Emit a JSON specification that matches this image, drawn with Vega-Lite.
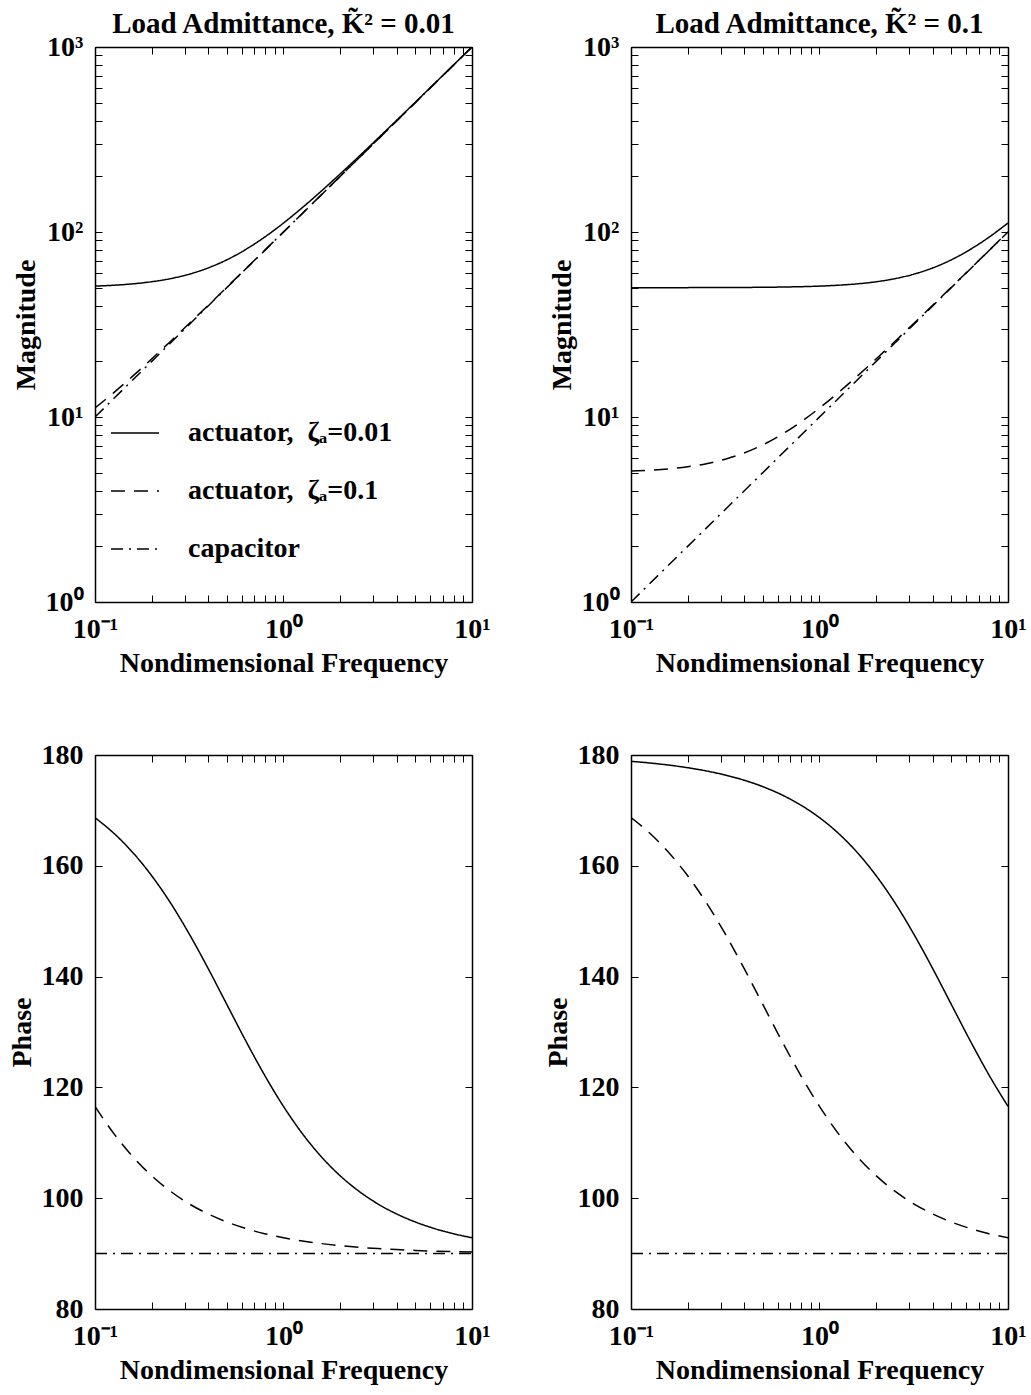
{
  "$schema": "https://vega.github.io/schema/vega-lite/v6.json",
  "padding": {"left": 8, "top": 10, "right": 5, "bottom": 2},
  "background": "white",
  "datasets": {
    "tl": [
      {"s":"z01","w":0.1,"v":51.0},{"s":"z01","w":0.1259,"v":51.56},{"s":"z01","w":0.1585,"v":52.45},{"s":"z01","w":0.1995,"v":53.83},{"s":"z01","w":0.2512,"v":55.96},{"s":"z01","w":0.3162,"v":59.16},{"s":"z01","w":0.3981,"v":63.91},{"s":"z01","w":0.5012,"v":70.8},{"s":"z01","w":0.631,"v":80.5},{"s":"z01","w":0.7943,"v":93.86},{"s":"z01","w":1,"v":111.8},{"s":"z01","w":1.259,"v":135.5},{"s":"z01","w":1.585,"v":166.2},{"s":"z01","w":1.995,"v":205.7},{"s":"z01","w":2.512,"v":256.1},{"s":"z01","w":3.162,"v":320.2},{"s":"z01","w":3.981,"v":401.2},{"s":"z01","w":5.012,"v":503.7},{"s":"z01","w":6.31,"v":632.9},{"s":"z01","w":7.943,"v":795.9},{"s":"z01","w":10,"v":1001.2},
      {"s":"z1","w":0.1,"v":11.18},{"s":"z1","w":0.1259,"v":13.55},{"s":"z1","w":0.1585,"v":16.62},{"s":"z1","w":0.1995,"v":20.57},{"s":"z1","w":0.2512,"v":25.61},{"s":"z1","w":0.3162,"v":32.02},{"s":"z1","w":0.3981,"v":40.12},{"s":"z1","w":0.5012,"v":50.37},{"s":"z1","w":0.631,"v":63.3},{"s":"z1","w":0.7943,"v":79.59},{"s":"z1","w":1,"v":100.1},{"s":"z1","w":1.259,"v":126.0},{"s":"z1","w":1.585,"v":158.6},{"s":"z1","w":1.995,"v":199.6},{"s":"z1","w":2.512,"v":251.2},{"s":"z1","w":3.162,"v":316.2},{"s":"z1","w":3.981,"v":398.1},{"s":"z1","w":5.012,"v":501.2},{"s":"z1","w":6.31,"v":631},{"s":"z1","w":7.943,"v":794.3},{"s":"z1","w":10,"v":1000},
      {"s":"cap","w":0.1,"v":10},{"s":"cap","w":10,"v":1000}
    ],
    "tr": [
      {"s":"z01","w":0.1,"v":50.01},{"s":"z01","w":0.1259,"v":50.02},{"s":"z01","w":0.1585,"v":50.02},{"s":"z01","w":0.1995,"v":50.04},{"s":"z01","w":0.2512,"v":50.06},{"s":"z01","w":0.3162,"v":50.1},{"s":"z01","w":0.3981,"v":50.16},{"s":"z01","w":0.5012,"v":50.25},{"s":"z01","w":0.631,"v":50.4},{"s":"z01","w":0.7943,"v":50.63},{"s":"z01","w":1,"v":50.99},{"s":"z01","w":1.259,"v":51.56},{"s":"z01","w":1.585,"v":52.45},{"s":"z01","w":1.995,"v":53.83},{"s":"z01","w":2.512,"v":55.96},{"s":"z01","w":3.162,"v":59.16},{"s":"z01","w":3.981,"v":63.91},{"s":"z01","w":5.012,"v":70.8},{"s":"z01","w":6.31,"v":80.5},{"s":"z01","w":7.943,"v":93.86},{"s":"z01","w":10,"v":111.8},
      {"s":"z1","w":0.1,"v":5.099},{"s":"z1","w":0.1259,"v":5.156},{"s":"z1","w":0.1585,"v":5.245},{"s":"z1","w":0.1995,"v":5.383},{"s":"z1","w":0.2512,"v":5.596},{"s":"z1","w":0.3162,"v":5.916},{"s":"z1","w":0.3981,"v":6.391},{"s":"z1","w":0.5012,"v":7.08},{"s":"z1","w":0.631,"v":8.05},{"s":"z1","w":0.7943,"v":9.386},{"s":"z1","w":1,"v":11.18},{"s":"z1","w":1.259,"v":13.55},{"s":"z1","w":1.585,"v":16.62},{"s":"z1","w":1.995,"v":20.57},{"s":"z1","w":2.512,"v":25.61},{"s":"z1","w":3.162,"v":32.02},{"s":"z1","w":3.981,"v":40.12},{"s":"z1","w":5.012,"v":50.37},{"s":"z1","w":6.31,"v":63.3},{"s":"z1","w":7.943,"v":79.59},{"s":"z1","w":10,"v":100.1},
      {"s":"cap","w":0.1,"v":1},{"s":"cap","w":10,"v":100}
    ],
    "bl": [
      {"s":"z01","w":0.1,"v":168.69},{"s":"z01","w":0.1259,"v":165.87},{"s":"z01","w":0.1585,"v":162.41},{"s":"z01","w":0.1995,"v":158.24},{"s":"z01","w":0.2512,"v":153.33},{"s":"z01","w":0.3162,"v":147.69},{"s":"z01","w":0.3981,"v":141.48},{"s":"z01","w":0.5012,"v":134.93},{"s":"z01","w":0.631,"v":128.39},{"s":"z01","w":0.7943,"v":122.19},{"s":"z01","w":1,"v":116.57},{"s":"z01","w":1.259,"v":111.66},{"s":"z01","w":1.585,"v":107.51},{"s":"z01","w":1.995,"v":104.07},{"s":"z01","w":2.512,"v":101.26},{"s":"z01","w":3.162,"v":98.98},{"s":"z01","w":3.981,"v":97.16},{"s":"z01","w":5.012,"v":95.7},{"s":"z01","w":6.31,"v":94.53},{"s":"z01","w":7.943,"v":93.6},{"s":"z01","w":10,"v":92.86},
      {"s":"z1","w":0.1,"v":116.57},{"s":"z1","w":0.1259,"v":111.66},{"s":"z1","w":0.1585,"v":107.51},{"s":"z1","w":0.1995,"v":104.07},{"s":"z1","w":0.2512,"v":101.26},{"s":"z1","w":0.3162,"v":98.98},{"s":"z1","w":0.3981,"v":97.16},{"s":"z1","w":0.5012,"v":95.7},{"s":"z1","w":0.631,"v":94.53},{"s":"z1","w":0.7943,"v":93.6},{"s":"z1","w":1,"v":92.86},{"s":"z1","w":1.259,"v":92.27},{"s":"z1","w":1.585,"v":91.81},{"s":"z1","w":1.995,"v":91.44},{"s":"z1","w":2.512,"v":91.14},{"s":"z1","w":3.162,"v":90.91},{"s":"z1","w":3.981,"v":90.72},{"s":"z1","w":5.012,"v":90.57},{"s":"z1","w":6.31,"v":90.45},{"s":"z1","w":7.943,"v":90.36},{"s":"z1","w":10,"v":90.29},
      {"s":"cap","w":0.1,"v":90},{"s":"cap","w":10,"v":90}
    ],
    "br": [
      {"s":"z01","w":0.1,"v":178.85},{"s":"z01","w":0.1259,"v":178.56},{"s":"z01","w":0.1585,"v":178.18},{"s":"z01","w":0.1995,"v":177.71},{"s":"z01","w":0.2512,"v":177.12},{"s":"z01","w":0.3162,"v":176.38},{"s":"z01","w":0.3981,"v":175.45},{"s":"z01","w":0.5012,"v":174.28},{"s":"z01","w":0.631,"v":172.81},{"s":"z01","w":0.7943,"v":170.97},{"s":"z01","w":1,"v":168.69},{"s":"z01","w":1.259,"v":165.87},{"s":"z01","w":1.585,"v":162.41},{"s":"z01","w":1.995,"v":158.24},{"s":"z01","w":2.512,"v":153.33},{"s":"z01","w":3.162,"v":147.69},{"s":"z01","w":3.981,"v":141.48},{"s":"z01","w":5.012,"v":134.93},{"s":"z01","w":6.31,"v":128.39},{"s":"z01","w":7.943,"v":122.19},{"s":"z01","w":10,"v":116.57},
      {"s":"z1","w":0.1,"v":168.69},{"s":"z1","w":0.1259,"v":165.87},{"s":"z1","w":0.1585,"v":162.41},{"s":"z1","w":0.1995,"v":158.24},{"s":"z1","w":0.2512,"v":153.33},{"s":"z1","w":0.3162,"v":147.69},{"s":"z1","w":0.3981,"v":141.48},{"s":"z1","w":0.5012,"v":134.93},{"s":"z1","w":0.631,"v":128.39},{"s":"z1","w":0.7943,"v":122.19},{"s":"z1","w":1,"v":116.57},{"s":"z1","w":1.259,"v":111.66},{"s":"z1","w":1.585,"v":107.51},{"s":"z1","w":1.995,"v":104.07},{"s":"z1","w":2.512,"v":101.26},{"s":"z1","w":3.162,"v":98.98},{"s":"z1","w":3.981,"v":97.16},{"s":"z1","w":5.012,"v":95.7},{"s":"z1","w":6.31,"v":94.53},{"s":"z1","w":7.943,"v":93.6},{"s":"z1","w":10,"v":92.86},
      {"s":"cap","w":0.1,"v":90},{"s":"cap","w":10,"v":90}
    ]
  },
  "columns": 2,
  "spacing": {"row": 153, "column": 159},
  "bounds": "flush",
  "resolve": {"scale": {"strokeDash": "independent"}, "legend": {"strokeDash": "independent"}},
  "concat": [
    {
      "width": 377, "height": 555,
      "data": {"name": "tl"},
      "title": {"text": "Load Admittance, K̃² = 0.01"},
      "layer": [
        {
          "mark": {"type": "line", "color": "black", "strokeWidth": 1.5, "clip": true, "interpolate": "monotone"},
          "encoding": {
            "x": {"field": "w", "type": "quantitative", "scale": {"type": "log", "domain": [0.1, 10], "nice": false},
              "axis": {"orient": "bottom", "values": [0.1,0.2,0.3,0.4,0.5,0.6,0.7,0.8,0.9,1,2,3,4,5,6,7,8,9,10], "labelExpr": "datum.value==0.1?'10⁻¹':datum.value==1?'10⁰':datum.value==10?'10¹':''", "title": "Nondimensional Frequency"}},
            "y": {"field": "v", "type": "quantitative", "scale": {"type": "log", "domain": [1, 1000], "nice": false},
              "axis": {"orient": "left", "values": [1,2,3,4,5,6,7,8,9,10,20,30,40,50,60,70,80,90,100,200,300,400,500,600,700,800,900,1000], "labelExpr": "datum.value==1?'10⁰':datum.value==10?'10¹':datum.value==100?'10²':datum.value==1000?'10³':''", "title": "Magnitude"}},
            "strokeDash": {"field": "s", "type": "nominal", "scale": {"domain": ["z01", "z1", "cap"], "range": [[1, 0], [14, 9], [12, 6, 2, 6]]},
              "legend": {"orient": "none", "legendX": 15, "legendY": 361, "title": null, "symbolType": "stroke", "symbolSize": 2304, "symbolStrokeColor": "black", "symbolStrokeWidth": 1.5, "labelFont": "Liberation Serif", "labelFontWeight": "bold", "labelFontSize": 28, "labelColor": "black", "labelLimit": 400, "labelOffset": 28, "rowPadding": 19, "padding": 0,
                "labelExpr": "datum.value=='z01'?'actuator,\u00a0 ζₐ=0.01':datum.value=='z1'?'actuator,\u00a0 ζₐ=0.1':'capacitor'"}}
          }
        },
        {
          "mark": {"type": "point", "opacity": 0},
          "encoding": {
            "x": {"field": "w", "type": "quantitative", "axis": {"orient": "top", "values": [0.1,0.2,0.3,0.4,0.5,0.6,0.7,0.8,0.9,1,2,3,4,5,6,7,8,9,10], "labels": false, "labelPadding": 0, "title": null}},
            "y": {"field": "v", "type": "quantitative", "axis": {"orient": "right", "values": [1,2,3,4,5,6,7,8,9,10,20,30,40,50,60,70,80,90,100,200,300,400,500,600,700,800,900,1000], "labels": false, "labelPadding": 0, "title": null}}
          }
        }
      ],
      "resolve": {"axis": {"x": "independent", "y": "independent"}}
    },
    {
      "width": 377, "height": 555,
      "data": {"name": "tr"},
      "title": {"text": "Load Admittance, K̃² = 0.1"},
      "layer": [
        {
          "mark": {"type": "line", "color": "black", "strokeWidth": 1.5, "clip": true, "interpolate": "monotone"},
          "encoding": {
            "x": {"field": "w", "type": "quantitative", "scale": {"type": "log", "domain": [0.1, 10], "nice": false},
              "axis": {"orient": "bottom", "values": [0.1,0.2,0.3,0.4,0.5,0.6,0.7,0.8,0.9,1,2,3,4,5,6,7,8,9,10], "labelExpr": "datum.value==0.1?'10⁻¹':datum.value==1?'10⁰':datum.value==10?'10¹':''", "title": "Nondimensional Frequency"}},
            "y": {"field": "v", "type": "quantitative", "scale": {"type": "log", "domain": [1, 1000], "nice": false},
              "axis": {"orient": "left", "values": [1,2,3,4,5,6,7,8,9,10,20,30,40,50,60,70,80,90,100,200,300,400,500,600,700,800,900,1000], "labelExpr": "datum.value==1?'10⁰':datum.value==10?'10¹':datum.value==100?'10²':datum.value==1000?'10³':''", "title": "Magnitude"}},
            "strokeDash": {"field": "s", "type": "nominal", "scale": {"domain": ["z01", "z1", "cap"], "range": [[1, 0], [14, 9], [12, 6, 2, 6]]}, "legend": null}
          }
        },
        {
          "mark": {"type": "point", "opacity": 0},
          "encoding": {
            "x": {"field": "w", "type": "quantitative", "axis": {"orient": "top", "values": [0.1,0.2,0.3,0.4,0.5,0.6,0.7,0.8,0.9,1,2,3,4,5,6,7,8,9,10], "labels": false, "labelPadding": 0, "title": null}},
            "y": {"field": "v", "type": "quantitative", "axis": {"orient": "right", "values": [1,2,3,4,5,6,7,8,9,10,20,30,40,50,60,70,80,90,100,200,300,400,500,600,700,800,900,1000], "labels": false, "labelPadding": 0, "title": null}}
          }
        }
      ],
      "resolve": {"axis": {"x": "independent", "y": "independent"}}
    },
    {
      "width": 377, "height": 554,
      "data": {"name": "bl"},
      "layer": [
        {
          "mark": {"type": "line", "color": "black", "strokeWidth": 1.5, "clip": true, "interpolate": "monotone"},
          "encoding": {
            "x": {"field": "w", "type": "quantitative", "scale": {"type": "log", "domain": [0.1, 10], "nice": false},
              "axis": {"orient": "bottom", "values": [0.1,0.2,0.3,0.4,0.5,0.6,0.7,0.8,0.9,1,2,3,4,5,6,7,8,9,10], "labelExpr": "datum.value==0.1?'10⁻¹':datum.value==1?'10⁰':datum.value==10?'10¹':''", "title": "Nondimensional Frequency"}},
            "y": {"field": "v", "type": "quantitative", "scale": {"domain": [80, 180], "nice": false, "zero": false},
              "axis": {"orient": "left", "values": [80,100,120,140,160,180], "title": "Phase"}},
            "strokeDash": {"field": "s", "type": "nominal", "scale": {"domain": ["z01", "z1", "cap"], "range": [[1, 0], [14, 9], [12, 6, 2, 6]]}, "legend": null}
          }
        },
        {
          "mark": {"type": "point", "opacity": 0},
          "encoding": {
            "x": {"field": "w", "type": "quantitative", "axis": {"orient": "top", "values": [0.1,0.2,0.3,0.4,0.5,0.6,0.7,0.8,0.9,1,2,3,4,5,6,7,8,9,10], "labels": false, "labelPadding": 0, "title": null}},
            "y": {"field": "v", "type": "quantitative", "axis": {"orient": "right", "values": [80,100,120,140,160,180], "labels": false, "labelPadding": 0, "title": null}}
          }
        }
      ],
      "resolve": {"axis": {"x": "independent", "y": "independent"}}
    },
    {
      "width": 377, "height": 554,
      "data": {"name": "br"},
      "layer": [
        {
          "mark": {"type": "line", "color": "black", "strokeWidth": 1.5, "clip": true, "interpolate": "monotone"},
          "encoding": {
            "x": {"field": "w", "type": "quantitative", "scale": {"type": "log", "domain": [0.1, 10], "nice": false},
              "axis": {"orient": "bottom", "values": [0.1,0.2,0.3,0.4,0.5,0.6,0.7,0.8,0.9,1,2,3,4,5,6,7,8,9,10], "labelExpr": "datum.value==0.1?'10⁻¹':datum.value==1?'10⁰':datum.value==10?'10¹':''", "title": "Nondimensional Frequency"}},
            "y": {"field": "v", "type": "quantitative", "scale": {"domain": [80, 180], "nice": false, "zero": false},
              "axis": {"orient": "left", "values": [80,100,120,140,160,180], "title": "Phase"}},
            "strokeDash": {"field": "s", "type": "nominal", "scale": {"domain": ["z01", "z1", "cap"], "range": [[1, 0], [14, 9], [12, 6, 2, 6]]}, "legend": null}
          }
        },
        {
          "mark": {"type": "point", "opacity": 0},
          "encoding": {
            "x": {"field": "w", "type": "quantitative", "axis": {"orient": "top", "values": [0.1,0.2,0.3,0.4,0.5,0.6,0.7,0.8,0.9,1,2,3,4,5,6,7,8,9,10], "labels": false, "labelPadding": 0, "title": null}},
            "y": {"field": "v", "type": "quantitative", "axis": {"orient": "right", "values": [80,100,120,140,160,180], "labels": false, "labelPadding": 0, "title": null}}
          }
        }
      ],
      "resolve": {"axis": {"x": "independent", "y": "independent"}}
    }
  ],
  "config": {
    "font": "Liberation Serif",
    "view": {"stroke": null},
    "axis": {
      "labelFont": "Liberation Serif", "labelFontWeight": "bold", "labelFontSize": 28, "labelColor": "black",
      "titleFont": "Liberation Serif", "titleFontWeight": "bold", "titleFontSize": 28, "titleColor": "black",
      "domainColor": "black", "domainWidth": 1.5, "tickColor": "black", "tickWidth": 1, "tickSize": -7,
      "grid": false, "labelOverlap": false, "labelFlush": false, "labelBound": false
    },
    "axisX": {"labelPadding": 20, "titlePadding": 6},
    "axisY": {"labelPadding": 19, "titlePadding": 5},
    "title": {"font": "Liberation Serif", "fontSize": 29, "fontWeight": "bold", "color": "black", "offset": -6, "frame": "group"}
  }
}
